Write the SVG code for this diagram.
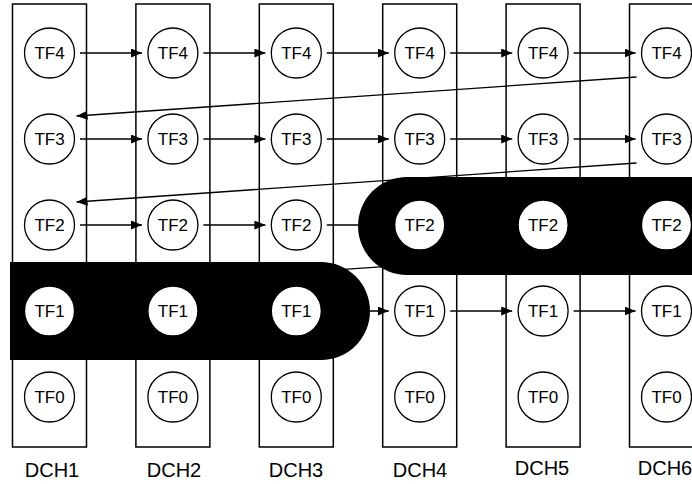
<svg xmlns="http://www.w3.org/2000/svg" width="692" height="484" viewBox="0 0 692 484">
<style>
.ch{fill:#fff;stroke:#000;stroke-width:1.5}
.tf{fill:#fff;stroke:#000;stroke-width:1.3}
.t{font-family:"Liberation Sans",Arial,sans-serif;font-size:17px;fill:#000;text-anchor:middle;dominant-baseline:central}
.lb{font-family:"Liberation Sans",Arial,sans-serif;font-size:20px;fill:#000;text-anchor:middle}
.c{stroke:#000;stroke-width:1.3;fill:none}
.a{marker-end:url(#ah)}
.blk{fill:#000}
</style>
<defs>
<marker id="ah" viewBox="0 0 11 9" refX="11" refY="4.5" markerWidth="11" markerHeight="9" markerUnits="userSpaceOnUse" orient="auto">
<path d="M0,0 L11,4.5 L0,9 Z" fill="#000"/>
</marker>
</defs>
<g id="channels">
<rect id="dch1" class="ch" x="12.5" y="4" width="74" height="443"/>
<rect id="dch2" class="ch" x="135.9" y="4" width="74" height="443"/>
<rect id="dch3" class="ch" x="259.3" y="4" width="74" height="443"/>
<rect id="dch4" class="ch" x="382.7" y="4" width="74" height="443"/>
<rect id="dch5" class="ch" x="506.1" y="4" width="74" height="443"/>
<rect id="dch6" class="ch" x="629.5" y="4" width="74" height="443"/>
</g>
<g id="connectors">
<line class="c a" x1="80" y1="53" x2="142" y2="53"/>
<line class="c a" x1="203.4" y1="53" x2="265.4" y2="53"/>
<line class="c a" x1="326.8" y1="53" x2="388.8" y2="53"/>
<line class="c a" x1="450.2" y1="53" x2="512.2" y2="53"/>
<line class="c a" x1="573.6" y1="53" x2="635.6" y2="53"/>
<line class="c a" x1="80" y1="139" x2="142" y2="139"/>
<line class="c a" x1="203.4" y1="139" x2="265.4" y2="139"/>
<line class="c a" x1="326.8" y1="139" x2="388.8" y2="139"/>
<line class="c a" x1="450.2" y1="139" x2="512.2" y2="139"/>
<line class="c a" x1="573.6" y1="139" x2="635.6" y2="139"/>
<line class="c a" x1="80" y1="225" x2="142" y2="225"/>
<line class="c a" x1="203.4" y1="225" x2="265.4" y2="225"/>
<line class="c a" x1="326.8" y1="225" x2="388.8" y2="225"/>
<line class="c a" x1="326.8" y1="311" x2="388.8" y2="311"/>
<line class="c a" x1="450.2" y1="311" x2="512.2" y2="311"/>
<line class="c a" x1="573.6" y1="311" x2="635.6" y2="311"/>
<line class="c a" x1="636.5" y1="77" x2="76.5" y2="116"/>
<line class="c a" x1="636.5" y1="163" x2="76.5" y2="202"/>
<line class="c a" x1="636.5" y1="249" x2="76.5" y2="288"/>
</g>
<g id="group-tf1">
<path class="blk" d="M10,262 H321 A49,49 0 0 1 321,360 H10 Z"/>
</g>
<g id="group-tf2">
<path class="blk" d="M407,177 A49,49 0 0 0 407,275 H700 V177 Z"/>
</g>
<g id="col1">
<circle class="tf" cx="49.5" cy="53" r="25"/><text class="t" x="49.5" y="53">TF4</text>
<circle class="tf" cx="49.5" cy="139" r="25"/><text class="t" x="49.5" y="139">TF3</text>
<circle class="tf" cx="49.5" cy="225" r="25"/><text class="t" x="49.5" y="225">TF2</text>
<circle class="tf" cx="49.5" cy="311" r="25"/><text class="t" x="49.5" y="311">TF1</text>
<circle class="tf" cx="49.5" cy="397" r="25"/><text class="t" x="49.5" y="397">TF0</text>
</g>
<g id="col2">
<circle class="tf" cx="172.9" cy="53" r="25"/><text class="t" x="172.9" y="53">TF4</text>
<circle class="tf" cx="172.9" cy="139" r="25"/><text class="t" x="172.9" y="139">TF3</text>
<circle class="tf" cx="172.9" cy="225" r="25"/><text class="t" x="172.9" y="225">TF2</text>
<circle class="tf" cx="172.9" cy="311" r="25"/><text class="t" x="172.9" y="311">TF1</text>
<circle class="tf" cx="172.9" cy="397" r="25"/><text class="t" x="172.9" y="397">TF0</text>
</g>
<g id="col3">
<circle class="tf" cx="296.3" cy="53" r="25"/><text class="t" x="296.3" y="53">TF4</text>
<circle class="tf" cx="296.3" cy="139" r="25"/><text class="t" x="296.3" y="139">TF3</text>
<circle class="tf" cx="296.3" cy="225" r="25"/><text class="t" x="296.3" y="225">TF2</text>
<circle class="tf" cx="296.3" cy="311" r="25"/><text class="t" x="296.3" y="311">TF1</text>
<circle class="tf" cx="296.3" cy="397" r="25"/><text class="t" x="296.3" y="397">TF0</text>
</g>
<g id="col4">
<circle class="tf" cx="419.7" cy="53" r="25"/><text class="t" x="419.7" y="53">TF4</text>
<circle class="tf" cx="419.7" cy="139" r="25"/><text class="t" x="419.7" y="139">TF3</text>
<circle class="tf" cx="419.7" cy="225" r="25"/><text class="t" x="419.7" y="225">TF2</text>
<circle class="tf" cx="419.7" cy="311" r="25"/><text class="t" x="419.7" y="311">TF1</text>
<circle class="tf" cx="419.7" cy="397" r="25"/><text class="t" x="419.7" y="397">TF0</text>
</g>
<g id="col5">
<circle class="tf" cx="543.1" cy="53" r="25"/><text class="t" x="543.1" y="53">TF4</text>
<circle class="tf" cx="543.1" cy="139" r="25"/><text class="t" x="543.1" y="139">TF3</text>
<circle class="tf" cx="543.1" cy="225" r="25"/><text class="t" x="543.1" y="225">TF2</text>
<circle class="tf" cx="543.1" cy="311" r="25"/><text class="t" x="543.1" y="311">TF1</text>
<circle class="tf" cx="543.1" cy="397" r="25"/><text class="t" x="543.1" y="397">TF0</text>
</g>
<g id="col6">
<circle class="tf" cx="666.5" cy="53" r="25"/><text class="t" x="666.5" y="53">TF4</text>
<circle class="tf" cx="666.5" cy="139" r="25"/><text class="t" x="666.5" y="139">TF3</text>
<circle class="tf" cx="666.5" cy="225" r="25"/><text class="t" x="666.5" y="225">TF2</text>
<circle class="tf" cx="666.5" cy="311" r="25"/><text class="t" x="666.5" y="311">TF1</text>
<circle class="tf" cx="666.5" cy="397" r="25"/><text class="t" x="666.5" y="397">TF0</text>
</g>
<g id="labels">
<text class="lb" x="52" y="477">DCH1</text>
<text class="lb" x="174" y="477">DCH2</text>
<text class="lb" x="296" y="477">DCH3</text>
<text class="lb" x="420" y="477">DCH4</text>
<text class="lb" x="542" y="475">DCH5</text>
<text class="lb" x="665" y="475">DCH6</text>
</g>
</svg>
